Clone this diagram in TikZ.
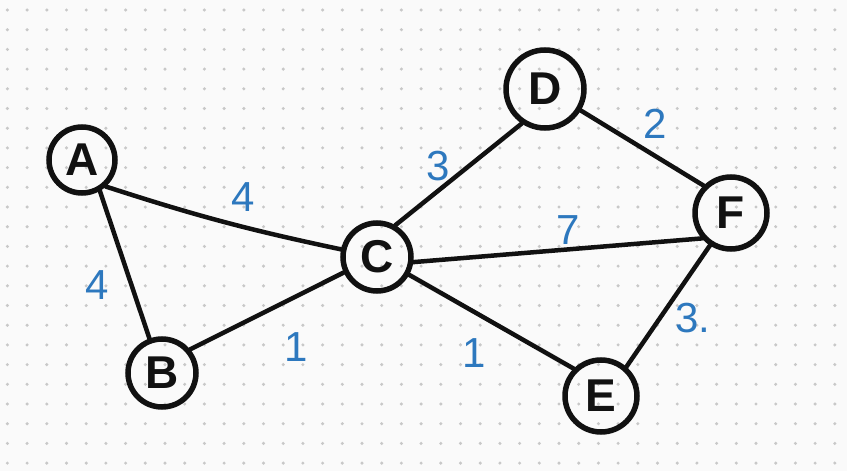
\documentclass[tikz,border=0pt]{standalone}
\usepackage{fontspec}
\setmainfont{Liberation Sans}
\definecolor{paper}{RGB}{250,250,250}
\definecolor{griddot}{RGB}{200,200,200}
\definecolor{ink}{RGB}{17,17,17}
\definecolor{penblue}{RGB}{45,120,190}
\tikzset{
  vert/.style={circle, draw=ink, line width=5.5pt, minimum size=#1, inner sep=0pt,
    font=\fontsize{46}{50}\selectfont\bfseries, text=ink},
  vert/.default=68pt,
  edgeline/.style={draw=ink, line width=4.5pt, line cap=round},
  weight/.style={text=penblue, font=\fontsize{42}{46}\selectfont, inner sep=0pt}
}
\begin{document}
\begin{tikzpicture}[x=1pt,y=-1pt]
  \fill[paper] (0,0) rectangle (847,471);
  \useasboundingbox (0,0) rectangle (847,471);
  % dotted grid
  \foreach \i in {0,...,42} {
    \foreach \j in {0,...,23} {
      \fill[griddot] ({7.4+19.7*\i},{10+19.7*\j}) circle (1.7);
    }
  }
  % vertices
  \node[vert=66pt] (A) at (82,160) {A};
  \node[vert=68pt] (B) at (162,373) {B};
  \node[vert=68pt] (C) at (377,257) {C};
  \node[vert=78pt] (D) at (545,89) {D};
  \node[vert=72pt] (F) at (731,213) {F};
  \node[vert=72pt] (E) at (601,396) {E};
  % edges
  \draw[edgeline] (A.-48) to[bend right=3] (C.168);
  \draw[edgeline] (A.-60) -- (B.110);
  \draw[edgeline] (B.40) -- (C.205);
  \draw[edgeline] (C.60) -- (D.236);
  \draw[edgeline] (D.-31) -- (F.135);
  \draw[edgeline] (C.-8) -- (F.221);
  \draw[edgeline] (C.-29) -- (E.135);
  \draw[edgeline] (F.237) -- (E.49);
  % weights
  \node[weight] (wAC) at (243,197) {4};
  \node[weight] (wAB) at (97,285) {4};
  \node[weight] (wBC) at (296,347) {1};
  \node[weight] (wCE) at (474,353) {1};
  \node[weight] (wCD) at (438,166) {3};
  \node[weight] (wDF) at (655,124) {2};
  \node[weight] (wCF) at (568,230) {7};
  \node[weight] (wFE) at (693,318) {3.};
\end{tikzpicture}
\end{document}
